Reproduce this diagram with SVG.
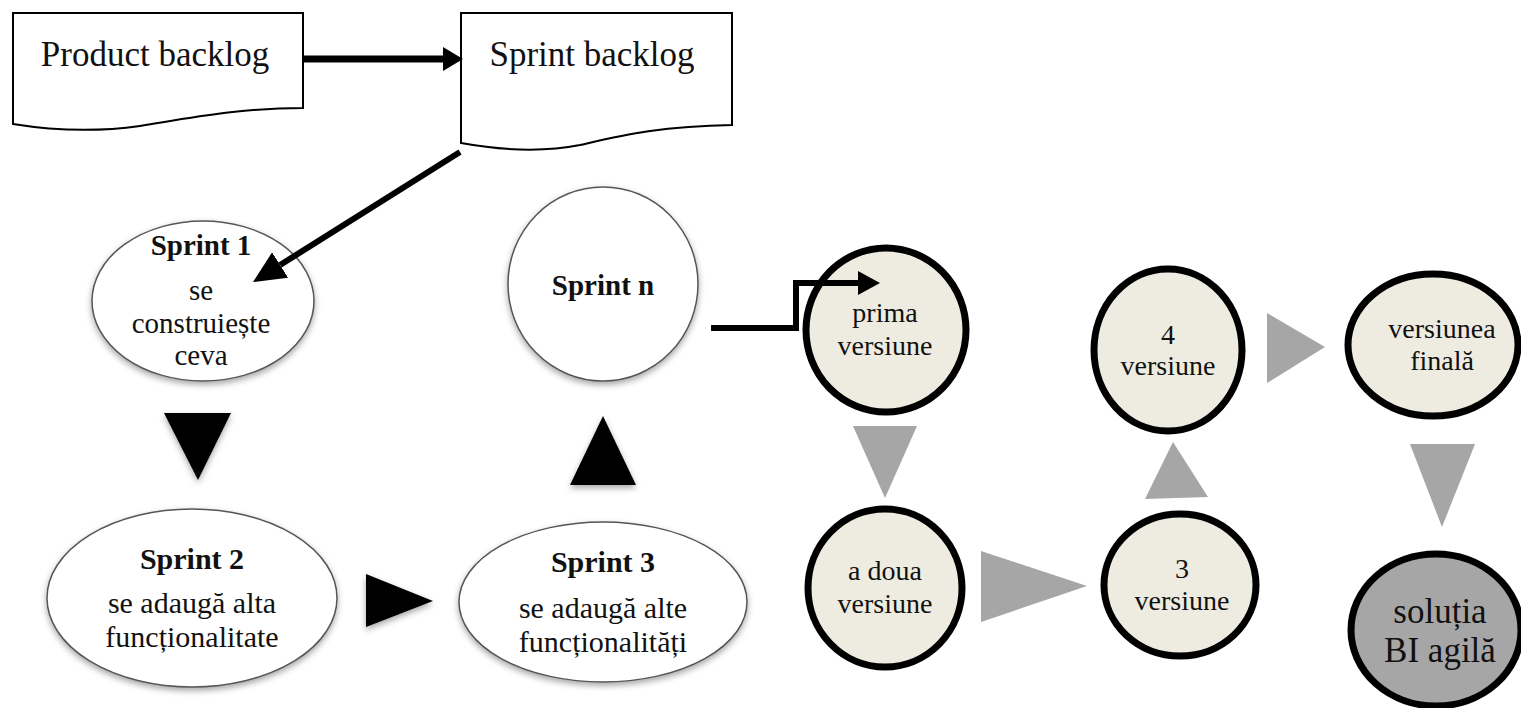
<svg xmlns="http://www.w3.org/2000/svg" width="1521" height="708" viewBox="0 0 1521 708">
<defs>
<style>
text{font-family:"Liberation Serif","Times New Roman",serif;fill:#111;text-anchor:middle}
.doc{fill:#fff;stroke:#000;stroke-width:2}
.sp{fill:#fff;stroke:#555;stroke-width:1.5;filter:url(#sh)}
.ver{fill:#EEECE1;stroke:#000;stroke-width:7}
.fin{fill:#A6A6A6;stroke:#000;stroke-width:7}
.tb{fill:#000;filter:url(#sh)}
.tg{fill:#A6A6A6}
.b{font-weight:bold}
.con{stroke:#000;fill:none}
</style>
<filter id="sh" x="-20%" y="-20%" width="140%" height="150%">
<feDropShadow dx="0" dy="3" stdDeviation="3" flood-color="#000" flood-opacity="0.35"/>
</filter>
<marker id="ah1" viewBox="0 0 10 10" refX="0" refY="5" markerUnits="userSpaceOnUse" markerWidth="20" markerHeight="24" orient="auto" preserveAspectRatio="none">
<path d="M0,0 L10,5 L0,10 z" fill="#000"/>
</marker>
<marker id="ah2" viewBox="0 0 10 10" refX="0" refY="5" markerUnits="userSpaceOnUse" markerWidth="32" markerHeight="30" orient="auto" preserveAspectRatio="none">
<path d="M0,0 L10,5 L0,10 z" fill="#000"/>
</marker>
<marker id="ah3" viewBox="0 0 10 10" refX="0" refY="5" markerUnits="userSpaceOnUse" markerWidth="22" markerHeight="24" orient="auto" preserveAspectRatio="none">
<path d="M0,0 L10,5 L0,10 z" fill="#000"/>
</marker>
</defs>

<g id="product-backlog">
<path class="doc" d="M13,13 H303 V108 C240,108 190,118 140,126 C90,133 50,130 13,124 Z"/>
<text x="155" y="66" font-size="35">Product backlog</text>
</g>

<g id="sprint-backlog">
<path class="doc" d="M461,13 H732 V125 C660,126 620,136 580,145 C540,153 500,150 461,143 Z"/>
<text x="592" y="66" font-size="35">Sprint backlog</text>
</g>

<g id="sprint1">
<ellipse class="sp" cx="203" cy="301" rx="111" ry="80"/>
<text x="201" y="255" font-size="29" class="b">Sprint 1</text>
<text x="201" y="300" font-size="29">se</text>
<text x="201" y="333" font-size="29">construiește</text>
<text x="201" y="365" font-size="29">ceva</text>
</g>

<g id="sprintn">
<ellipse class="sp" cx="603" cy="284" rx="95" ry="97"/>
<text x="603" y="295" font-size="29" class="b">Sprint n</text>
</g>

<g id="sprint2">
<ellipse class="sp" cx="192" cy="598" rx="145" ry="89"/>
<text x="192" y="569" font-size="30" class="b">Sprint 2</text>
<text x="192" y="613" font-size="30">se adaugă alta</text>
<text x="192" y="647" font-size="30">funcționalitate</text>
</g>

<g id="sprint3">
<ellipse class="sp" cx="603" cy="602" rx="144" ry="80"/>
<text x="603" y="572" font-size="30" class="b">Sprint 3</text>
<text x="603" y="618" font-size="30">se adaugă alte</text>
<text x="603" y="652" font-size="30">funcționalități</text>
</g>

<g id="prima">
<ellipse class="ver" cx="886" cy="330" rx="80" ry="82"/>
<text x="885" y="322" font-size="28">prima</text>
<text x="885" y="355" font-size="28">versiune</text>
</g>

<g id="adoua">
<ellipse class="ver" cx="885" cy="588" rx="77" ry="79"/>
<text x="885" y="580" font-size="28">a doua</text>
<text x="885" y="613" font-size="28">versiune</text>
</g>

<g id="v3">
<ellipse class="ver" cx="1180" cy="585" rx="76" ry="71"/>
<text x="1182" y="578" font-size="28">3</text>
<text x="1182" y="610" font-size="28">versiune</text>
</g>

<g id="v4">
<ellipse class="ver" cx="1168" cy="350" rx="74" ry="81"/>
<text x="1168" y="344" font-size="28">4</text>
<text x="1168" y="375" font-size="28">versiune</text>
</g>

<g id="finala">
<ellipse class="ver" cx="1433" cy="345" rx="85" ry="71"/>
<text x="1442" y="338" font-size="28">versiunea</text>
<text x="1442" y="370" font-size="28">finală</text>
</g>

<g id="solutia">
<ellipse class="fin" cx="1436" cy="630" rx="85" ry="76"/>
<text x="1440" y="623" font-size="35">soluția</text>
<text x="1440" y="662" font-size="35">BI agilă</text>
</g>

<g id="connectors">
<line class="con" x1="303" y1="59" x2="443" y2="59" stroke-width="7" marker-end="url(#ah1)"/>
<line class="con" x1="460" y1="152" x2="280.1" y2="265" stroke-width="6" marker-end="url(#ah2)"/>
<polyline class="con" points="711,328 796,328 796,283 858,283" stroke-width="6" marker-end="url(#ah3)"/>
<polygon class="tb" points="164,413 231,413 198,480"/>
<polygon class="tb" points="366,574 433,601 366,627"/>
<polygon class="tb" points="603,416 636,485 570,485"/>
<polygon class="tg" points="853,426 917,426 885,498"/>
<polygon class="tg" points="981,551 1087,586 981,622"/>
<polygon class="tg" points="1173,442 1208,497 1145,499"/>
<polygon class="tg" points="1267,313 1325,347 1267,383"/>
<polygon class="tg" points="1410,444 1475,444 1442,527"/>
</g>
</svg>
